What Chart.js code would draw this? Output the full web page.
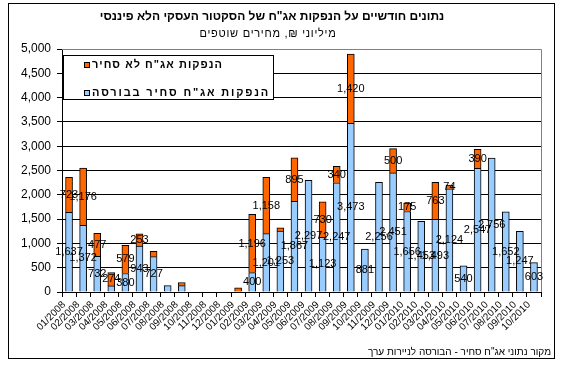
<!DOCTYPE html>
<html>
<head>
<meta charset="utf-8">
<script src="https://cdn.jsdelivr.net/npm/chart.js@4.4.1/dist/chart.umd.min.js"></script>
<style>
  html, body { margin: 0; padding: 0; background: #fff; }
  canvas { display: block; }
</style>
</head>
<body>
<canvas id="chart" width="565" height="371"></canvas>
<script>
const titleText = 'נתונים חודשיים על הנפקות אג"ח של הסקטור העסקי הלא פיננסי';
const subtitleText = 'מיליוני ₪, מחירים שוטפים';
const sourceText = 'מקור נתוני אג"ח סחיר - הבורסה לניירות ערך';

const months = [
  "01/2008", "02/2008", "03/2008", "04/2008", "05/2008", "06/2008",
  "07/2008", "08/2008", "09/2008", "10/2008", "11/2008", "12/2008",
  "01/2009", "02/2009", "03/2009", "04/2009", "05/2009", "06/2009",
  "07/2009", "08/2009", "09/2009", "10/2009", "11/2009", "12/2009",
  "01/2010", "02/2010", "03/2010", "04/2010", "05/2010", "06/2010",
  "07/2010", "08/2010", "09/2010", "10/2010",
];

// traded on the exchange (blue)
const tradedLabel = 'הנפקות אג"ח סחיר בבורסה';
const tradedValues = [
  1637, 1372, 732, 126, 380, 943, 727, 130, 130, 0, 0, 0,
  0, 400, 1201, 1253, 1867, 2297, 1123, 2247, 3473, 881, 2256, 2451,
  1656, 1453, 1493, 2124, 540, 2547, 2756, 1652, 1247, 603,
];
const tradedHiddenLabels = [3, 7, 8];

// not traded (orange)
const nonTradedLabel = 'הנפקות אג"ח לא סחיר';
const nonTradedValues = [
  723, 1176, 477, 274, 579, 253, 110, 0, 65, 0, 0, 0,
  85, 1196, 1158, 65, 895, 0, 730, 340, 1420, 0, 0, 500,
  175, 0, 763, 74, 0, 390, 0, 0, 0, 0,
];
const nonTradedHiddenLabels = [6, 8, 12, 15];

const yMin = 0;
const yMax = 5000;
const yStep = 500;

const FONT = "Arial, 'Liberation Sans', 'DejaVu Sans', sans-serif";

// draws text stretched with letter spacing to a given width
function spacedText(ctx, text, x, y, width) {
  ctx.letterSpacing = "0px";
  const w = ctx.measureText(text).width;
  const extra = Math.max(0, (width - w) / text.length);
  ctx.letterSpacing = extra.toFixed(2) + "px";
  ctx.fillText(text, x, y);
  ctx.letterSpacing = "0px";
}

// data labels centred in each stacked segment
const segmentLabels = {
  id: "segmentLabels",
  afterDatasetsDraw(chart) {
    const ctx = chart.ctx;
    ctx.save();
    ctx.font = "11px " + FONT;
    ctx.fillStyle = "#000";
    ctx.textAlign = "center";
    ctx.textBaseline = "middle";
    chart.data.datasets.forEach((ds, di) => {
      const meta = chart.getDatasetMeta(di);
      meta.data.forEach((bar, i) => {
        const v = ds.data[i];
        if (!v || ds.hiddenLabels.includes(i)) return;
        ctx.fillText(v.toLocaleString("en-US"), bar.x, (bar.y + bar.base) / 2);
      });
    });
    ctx.restore();
  },
};

// frame, titles, source line, legend box, plot border
const decorations = {
  id: "decorations",
  beforeDraw(chart) {
    const ctx = chart.ctx;
    ctx.save();
    ctx.fillStyle = "#fff";
    ctx.fillRect(0, 0, chart.width, chart.height);
    ctx.strokeStyle = "#000";
    ctx.lineWidth = 1;
    ctx.strokeRect(8.5, 3.5, 546, 355);

    ctx.direction = "rtl";
    ctx.fillStyle = "#000";
    ctx.textAlign = "center";
    ctx.textBaseline = "middle";
    ctx.font = "bold 12px " + FONT;
    spacedText(ctx, titleText, 272, 17, 341);
    ctx.font = "11px " + FONT;
    spacedText(ctx, subtitleText, 268, 34, 137);
    ctx.font = "10px " + FONT;
    ctx.textAlign = "right";
    ctx.fillText(sourceText, 551, 352);
    ctx.restore();
  },
  beforeDatasetsDraw(chart) {
    const { ctx, chartArea: a } = chart;
    ctx.save();
    ctx.strokeStyle = "#808080";
    ctx.lineWidth = 1;
    ctx.beginPath();
    ctx.moveTo(a.left, a.top + 0.5);
    ctx.lineTo(a.right + 0.5, a.top + 0.5);
    ctx.lineTo(a.right + 0.5, a.bottom);
    ctx.stroke();
    ctx.restore();
  },
  afterDatasetsDraw(chart) {
    const ctx = chart.ctx;
    ctx.save();
    ctx.fillStyle = "#fff";
    ctx.strokeStyle = "#000";
    ctx.lineWidth = 1;
    ctx.fillRect(63.5, 55.5, 210, 44);
    ctx.strokeRect(63.5, 55.5, 210, 44);

    const entries = [chart.data.datasets[1], chart.data.datasets[0]];
    const rows = [65, 93];
    const widths = [131, 178];
    ctx.font = "bold 11px " + FONT;
    ctx.textBaseline = "middle";
    ctx.direction = "ltr";
    ctx.textAlign = "left";
    entries.forEach((ds, k) => {
      const y = rows[k];
      ctx.fillStyle = ds.backgroundColor;
      ctx.fillRect(84.5, y - 2.5, 5, 5);
      ctx.strokeRect(84.5, y - 2.5, 5, 5);
      ctx.fillStyle = "#000";
      spacedText(ctx, ds.label, 92, y, widths[k]);
    });
    ctx.restore();
  },
};

new Chart(document.getElementById("chart"), {
  type: "bar",
  data: {
    labels: months,
    datasets: [
      {
        label: tradedLabel,
        data: tradedValues.map((v) => (v ? v : null)),
        hiddenLabels: tradedHiddenLabels,
        backgroundColor: "#99CCFF",
        borderColor: "#000",
        borderWidth: 1,
        barThickness: 7,
      },
      {
        label: nonTradedLabel,
        data: nonTradedValues.map((v) => (v ? v : null)),
        hiddenLabels: nonTradedHiddenLabels,
        backgroundColor: "#FF6600",
        borderColor: "#000",
        borderWidth: 1,
        barThickness: 7,
      },
    ],
  },
  options: {
    responsive: false,
    animation: false,
    devicePixelRatio: 1,
    layout: { padding: { left: 8, right: 24, top: 49, bottom: 0 } },
    plugins: {
      legend: { display: false },
      title: { display: false },
      tooltip: { enabled: false },
    },
    scales: {
      x: {
        stacked: true,
        afterFit: (s) => { s.height = 79; },
        grid: { drawOnChartArea: false, tickLength: 5, tickColor: "#000" },
        border: { color: "#000", width: 1 },
        ticks: {
          autoSkip: false,
          minRotation: 45,
          maxRotation: 45,
          padding: 2,
          labelOffset: -5,
          color: "#000",
          font: { family: FONT, size: 10 },
        },
      },
      y: {
        stacked: true,
        min: yMin,
        max: yMax,
        afterFit: (s) => { s.width = 54; },
        grid: {
          color: (c) => (c.tick && c.tick.value === yMax ? "#808080" : "#000"),
          tickColor: "#000",
          tickLength: 5,
        },
        border: { color: "#000", width: 1 },
        ticks: {
          stepSize: yStep,
          padding: 6,
          color: "#000",
          font: { family: FONT, size: 12 },
          callback: (v) => v.toLocaleString("en-US"),
        },
      },
    },
  },
  plugins: [segmentLabels, decorations],
});
</script>
</body>
</html>
